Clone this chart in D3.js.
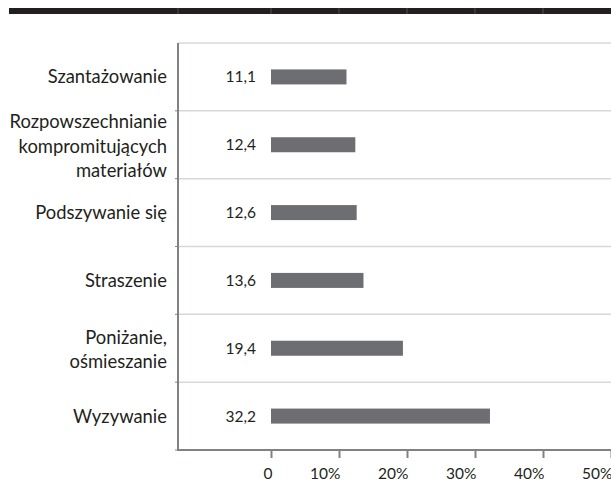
<!DOCTYPE html>
<html>
<head>
<meta charset="utf-8">
<script src="https://cdn.jsdelivr.net/npm/d3@7"></script>
<style>
  body { margin: 0; background: #fff; }
  text { font-family: Lato, "Open Sans", sans-serif; fill: #231f20; }
</style>
</head>
<body>
<div id="app"></div>
<script>
let categories = [
  'Szantażowanie',
  'Rozpowszechnianie\nkompromitujących\nmateriałów',
  'Podszywanie się',
  'Straszenie',
  'Poniżanie,\nośmieszanie',
  'Wyzywanie'
];
let values = [11.1, 12.4, 12.6, 13.6, 19.4, 32.2];
let valueLabels = ['11,1', '12,4', '12,6', '13,6', '19,4', '32,2'];
let tickValues = [0, 10, 20, 30, 40, 50];
let tickLabels = ['0', '10%', '20%', '30%', '40%', '50%'];

let width = 611;
let height = 481;

let plot = { left: 178, top: 43, bottom: 450, right: 611 };

let svg = d3.select('#app').append('svg')
    .attr('width', width)
    .attr('height', height);

let xScale = d3.scaleLinear()
               .domain([0, 50])
               .range([271, 611]);

let yScale = d3.scaleBand()
               .domain(d3.range(categories.length))
               .range([plot.top, plot.bottom]);

// dark header band
svg.append('rect')
   .attr('x', 9).attr('y', 8)
   .attr('width', width - 9).attr('height', 6)
   .attr('fill', '#231f20');

svg.selectAll('.hsep')
   .data([plot.left].concat(tickValues.slice(0, 5).map(d => xScale(d))))
   .enter().append('line')
     .attr('x1', d => d).attr('x2', d => d)
     .attr('y1', 8).attr('y2', 14)
     .attr('stroke', '#58585a').attr('stroke-width', 0.8);

// horizontal guides between categories
let gridY = d3.range(categories.length).map(i => yScale(i));
svg.selectAll('.grid')
   .data(gridY)
   .enter().append('line')
     .attr('x1', plot.left).attr('x2', plot.right)
     .attr('y1', d => d).attr('y2', d => d)
     .attr('stroke', '#d8d8d9')
     .attr('stroke-width', 1.5);

// bars
svg.selectAll('.bar')
   .data(values)
   .enter().append('rect')
     .attr('x', xScale(0))
     .attr('y', (d, i) => yScale(i) + yScale.bandwidth() / 2 - 7.5)
     .attr('width', d => xScale(d) - xScale(0))
     .attr('height', 15)
     .attr('fill', '#6d6e71');

// value labels
svg.selectAll('.val')
   .data(valueLabels)
   .enter().append('text')
     .attr('x', 256)
     .attr('y', (d, i) => yScale(i) + yScale.bandwidth() / 2)
     .attr('dy', '0.35em')
     .attr('text-anchor', 'end')
     .style('font-size', '15.5px')
     .text(d => d);

// category labels
let lineH = 24.5;
svg.selectAll('.cat')
   .data(categories)
   .enter().append('text')
     .attr('text-anchor', 'end')
     .style('font-size', '18.4px')
     .each(function(d, i) {
       let lines = d.split('\n');
       let cy = yScale(i) + yScale.bandwidth() / 2;
       let y0 = cy - (lines.length - 1) * lineH / 2 + (lines.length > 1 ? 1.5 : 0);
       d3.select(this).selectAll('tspan')
         .data(lines)
         .enter().append('tspan')
           .attr('x', 167)
           .attr('y', (l, j) => y0 + j * lineH)
           .attr('dy', '0.35em')
           .text(l => l);
     });

// x axis
let xAxis = d3.axisBottom(xScale)
              .tickValues(tickValues)
              .tickFormat((d, i) => tickLabels[i])
              .tickSize(8)
              .tickSizeOuter(0)
              .tickPadding(12);

let xGuide = svg.append('g')
                .attr('transform', `translate(0, ${plot.bottom})`)
                .call(xAxis);
xGuide.select('.domain').remove();
xGuide.selectAll('line').attr('stroke', '#808285').attr('stroke-width', 2);
xGuide.selectAll('text')
      .style('font-size', '15.5px')
      .style('font-family', 'Lato, sans-serif')
      .attr('fill', '#231f20')
      .attr('text-anchor', 'end')
      .attr('x', 1)
      .attr('y', 29)
      .attr('dy', 0);

// axis lines
svg.append('line')
   .attr('x1', plot.left).attr('x2', plot.right)
   .attr('y1', plot.bottom).attr('y2', plot.bottom)
   .attr('stroke', '#808285').attr('stroke-width', 2);

svg.append('line')
   .attr('x1', plot.left).attr('x2', plot.left)
   .attr('y1', plot.top).attr('y2', plot.bottom + 1)
   .attr('stroke', '#808285').attr('stroke-width', 2);

// small ticks on the left axis
svg.selectAll('.ltick')
   .data(gridY.slice(1).concat([plot.bottom]))
   .enter().append('line')
     .attr('x1', plot.left - 3).attr('x2', plot.left)
     .attr('y1', d => d).attr('y2', d => d)
     .attr('stroke', '#808285').attr('stroke-width', 1);
</script>
</body>
</html>
